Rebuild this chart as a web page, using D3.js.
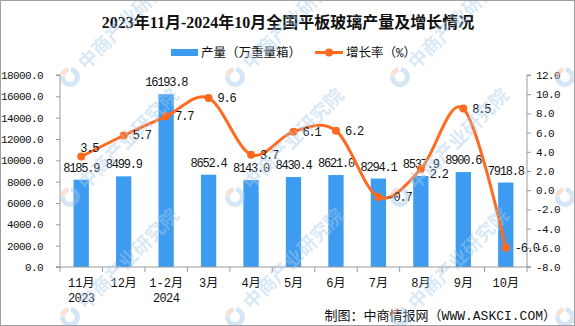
<!DOCTYPE html>
<html>
<head>
<meta charset="utf-8">
<script src="https://cdn.jsdelivr.net/npm/d3@7"></script>
<style>
  body { margin: 0; background: #fff; }
  svg { display: block; }
  .tick text, .num { font-family: "Liberation Mono", "Noto Sans CJK SC", monospace; font-size: 11px; letter-spacing: -0.6px; fill: #111; }
  .cjk { font-family: "Liberation Mono", "Noto Sans CJK SC", sans-serif; fill: #111; }
</style>
</head>
<body>
<svg id="chart" width="575" height="326"></svg>
<script>
const months = ["11月", "12月", "1-2月", "3月", "4月", "5月", "6月", "7月", "8月", "9月", "10月"];
const years = ["2023", "", "2024", "", "", "", "", "", "", "", ""];
const output = [8185.9, 8499.9, 16193.8, 8652.4, 8143.0, 8430.4, 8621.0, 8294.1, 8537.9, 8900.6, 7918.8];
const growth = [3.5, 5.7, 7.7, 9.6, 3.7, 6.1, 6.2, -0.7, 2.2, 8.5, -6.0];
const leftTicks = [0, 2000, 4000, 6000, 8000, 10000, 12000, 14000, 16000, 18000];
const rightTicks = [-8, -6, -4, -2, 0, 2, 4, 6, 8, 10, 12];

const blue = "#3d9bf0", orange = "#ff6a1f", axisGrey = "#9a9a9a";
const svg = d3.select("#chart");

const pLeft = 60, pRight = 527, pTop = 75, pBottom = 267;
const x = d3.scaleBand().domain(months).range([pLeft, pRight]).paddingInner(0.64).paddingOuter(0.32);
const xc = d => x(d) + x.bandwidth() / 2;
const y = d3.scaleLinear().domain([0, 18000]).range([pBottom, pTop]);
const y2 = d3.scaleLinear().domain([-8, 12]).range([pBottom, pTop]);

// bars
svg.append("g").selectAll("rect").data(output).join("rect")
  .attr("x", (d, i) => x(months[i]))
  .attr("y", d => y(d))
  .attr("width", x.bandwidth())
  .attr("height", d => pBottom - y(d))
  .attr("fill", blue);

// left axis
const yAxis = svg.append("g").attr("transform", `translate(${pLeft},0)`)
  .call(d3.axisLeft(y).tickValues(leftTicks).tickFormat(d3.format(".1f")).tickSize(4).tickPadding(13));
yAxis.select(".domain").attr("stroke", axisGrey).attr("d", `M-4,${pTop}H0V${pBottom}H-4`);
yAxis.selectAll(".tick line").attr("stroke", axisGrey);

// right axis
const y2Axis = svg.append("g").attr("transform", `translate(${pRight},0)`)
  .call(d3.axisRight(y2).tickValues(rightTicks).tickFormat(d3.format(".1f")).tickSize(4).tickPadding(5));
y2Axis.select(".domain").attr("stroke", axisGrey).attr("d", `M4,${pTop}H0V${pBottom}H4`);
y2Axis.selectAll(".tick line").attr("stroke", axisGrey);
y2Axis.selectAll(".tick text").text(d => d.toFixed(1));

// category axis, ticks sit between the bands
const xAxis = svg.append("g").attr("transform", `translate(0,${pBottom})`);
xAxis.append("line").attr("x1", pLeft - 4).attr("x2", pRight + 4).attr("stroke", axisGrey);
xAxis.selectAll(".sep").data(d3.range(months.length + 1)).join("line")
  .attr("x1", i => pLeft + i * x.step()).attr("x2", i => pLeft + i * x.step())
  .attr("y1", 0).attr("y2", 5).attr("stroke", axisGrey);
xAxis.selectAll(".m").data(months).join("text").attr("class", "cjk")
  .attr("x", d => xc(d)).attr("y", 20).attr("text-anchor", "middle")
  .style("font-size", "12px").text(d => d);
xAxis.selectAll(".yr").data(years).join("text").attr("class", "num")
  .attr("x", (d, i) => xc(months[i])).attr("y", 35).attr("text-anchor", "middle")
  .style("font-size", "12px").text(d => d);

// bar value labels
svg.append("g").selectAll("text").data(output).join("text").attr("class", "num")
  .attr("x", (d, i) => xc(months[i])).attr("y", d => y(d) - 8)
  .attr("text-anchor", "middle").style("font-size", "12px").style("letter-spacing", "-1.2px")
  .text(d => d.toFixed(1));

// growth line
const line = d3.line().x((d, i) => xc(months[i])).y(d => y2(d)).curve(d3.curveCardinal);
svg.append("path").datum(growth).attr("d", line)
  .attr("fill", "none").attr("stroke", orange).attr("stroke-width", 3);
svg.append("g").selectAll("circle").data(growth).join("circle")
  .attr("cx", (d, i) => xc(months[i])).attr("cy", d => y2(d)).attr("r", 4).attr("fill", orange);

const nudge = { 0: [-10, -9], 8: [0, 5] };
svg.append("g").selectAll("text").data(growth).join("text").attr("class", "num")
  .attr("x", (d, i) => xc(months[i]) + 9 + (nudge[i] ? nudge[i][0] : 0))
  .attr("y", (d, i) => y2(d) + 4 + (nudge[i] ? nudge[i][1] : 0))
  .style("font-size", "12px").style("letter-spacing", "-1.2px")
  .text(d => d.toFixed(1));

// title
svg.append("text").attr("x", 288).attr("y", 28).attr("text-anchor", "middle")
  .style("font-family", "'Liberation Serif', 'Noto Sans CJK SC', serif")
  .style("font-size", "16px").style("font-weight", "bold").style("fill", "#111")
  .text("2023年11月-2024年10月全国平板玻璃产量及增长情况");

// legend
const lg = svg.append("g");
lg.append("rect").attr("x", 171).attr("y", 49).attr("width", 27).attr("height", 7).attr("fill", blue);
lg.append("text").attr("class", "cjk").attr("x", 201).attr("y", 57).style("font-size", "12.5px")
  .text("产量（万重量箱）");
lg.append("line").attr("x1", 315).attr("x2", 343).attr("y1", 52.5).attr("y2", 52.5)
  .attr("stroke", orange).attr("stroke-width", 3);
lg.append("circle").attr("cx", 329).attr("cy", 52.5).attr("r", 4).attr("fill", orange);
lg.append("text").attr("class", "cjk").attr("x", 346).attr("y", 57).style("font-size", "12.5px")
  .text("增长率（%）");

// source note
svg.append("text").attr("class", "cjk").attr("x", 556).attr("y", 320).attr("text-anchor", "end")
  .style("font-size", "13px").text("制图：中商情报网（WWW.ASKCI.COM）");

// watermark grid: logo ring plus diagonal name, laid over the plot
const wm = svg.append("g").attr("opacity", 0.45).style("pointer-events", "none");
const arc = d3.arc().innerRadius(5).outerRadius(10);
[70, 235, 400, 565].forEach(cx => [77, 197, 317].forEach(cy => {
  const g = wm.append("g").attr("transform", `translate(${cx},${cy}) rotate(-45)`);
  g.append("path").attr("d", arc({ startAngle: 0.9, endAngle: 5.6 })).attr("fill", "#9fc6e8");
  g.append("path").attr("d", arc({ startAngle: -0.6, endAngle: 0.6 })).attr("fill", "#f2b8a8");
  if (cx < 560) {
    g.append("text").attr("x", 16).attr("y", 7)
      .style("font-family", "'Noto Sans CJK SC', sans-serif")
      .style("font-size", "19px").style("font-weight", "bold").style("fill", "#a8cbe8")
      .text("中商产业研究院");
  }
}));

// frame
svg.append("rect").attr("x", 0.5).attr("y", 0.5).attr("width", 574).attr("height", 325)
  .attr("fill", "none").attr("stroke", "#a0a0a0");
</script>
</body>
</html>
